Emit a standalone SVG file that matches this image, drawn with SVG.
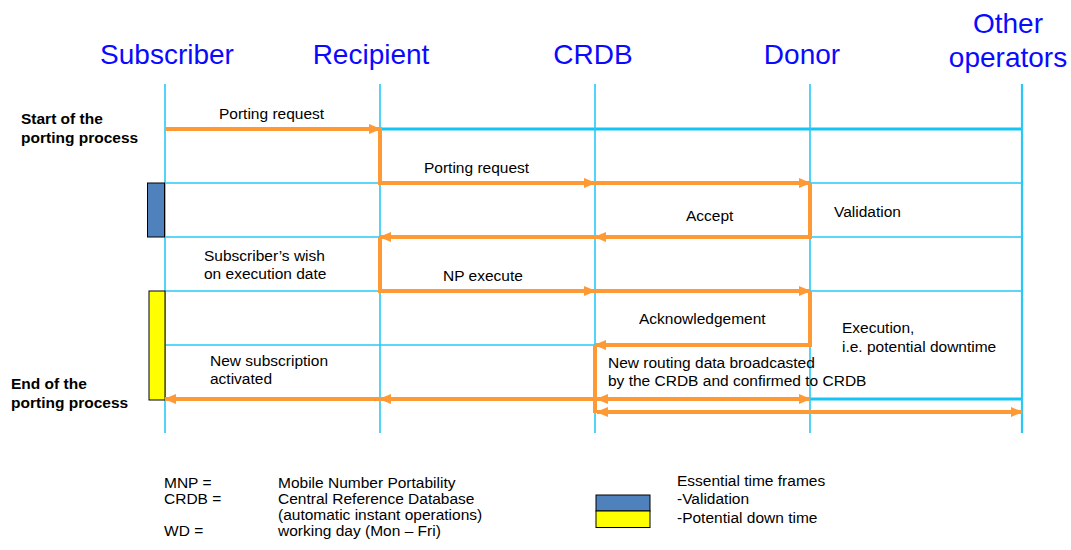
<svg xmlns="http://www.w3.org/2000/svg" width="1071" height="550" viewBox="0 0 1071 550">
<defs>
<style>
.life{stroke:#29C8F8;stroke-width:1.6;fill:none}
.thin{stroke:#29C8F8;stroke-width:1.3;fill:none}
.thick{stroke:#14C4F6;stroke-width:3;fill:none}
.msg{stroke:#FF9933;stroke-width:4;fill:none;stroke-linejoin:miter}
.hdr{font-family:"Liberation Sans",Arial,sans-serif;font-size:28px;fill:#0A0AFF;text-anchor:middle}
.lbl{font-family:"Liberation Sans",Arial,sans-serif;font-size:15.5px;fill:#000}
.bold{font-family:"Liberation Sans",Arial,sans-serif;font-size:15.5px;font-weight:bold;fill:#000}
</style>
<marker id="ah" markerUnits="userSpaceOnUse" viewBox="0 0 12 10" refX="11" refY="5" markerWidth="12" markerHeight="10" orient="auto-start-reverse">
<path d="M0,0 L12,5 L0,10 z" fill="#FF9933"/>
</marker>
</defs>
<rect width="1071" height="550" fill="#fff"/>

<g id="grid">
<line class="thin" x1="165" y1="183" x2="1022" y2="183"/>
<line class="thin" x1="165" y1="237" x2="1022" y2="237"/>
<line class="thin" x1="165" y1="291" x2="1022" y2="291"/>
<line class="thin" x1="165" y1="345" x2="810" y2="345"/>
<line class="thick" x1="380" y1="129" x2="1022" y2="129"/>
<line class="thick" x1="810" y1="399" x2="1022" y2="399"/>
</g>

<g id="subscriber">
<text class="hdr" x="167" y="64">Subscriber</text>
<line class="life" x1="165" y1="84" x2="165" y2="433"/>
</g>
<g id="recipient">
<text class="hdr" x="371" y="64">Recipient</text>
<line class="life" x1="380" y1="84" x2="380" y2="433"/>
</g>
<g id="crdb">
<text class="hdr" x="593" y="64">CRDB</text>
<line class="life" x1="595" y1="84" x2="595" y2="433"/>
</g>
<g id="donor">
<text class="hdr" x="802" y="64">Donor</text>
<line class="life" x1="810" y1="84" x2="810" y2="433"/>
</g>
<g id="other">
<text class="hdr" x="1008" y="33">Other</text>
<text class="hdr" x="1008" y="67">operators</text>
<line class="life" x1="1022" y1="84" x2="1022" y2="433" style="stroke-width:2.2"/>
</g>

<g id="timeframes">
<rect x="147.5" y="183" width="17" height="54" fill="#4F81BD" stroke="#000" stroke-width="1"/>
<rect x="149" y="291" width="16" height="109" fill="#FFFF00" stroke="#000" stroke-width="1"/>
</g>

<g id="connectors">
<path class="msg" d="M165,129 H380" marker-end="url(#ah)"/>
<path class="msg" d="M380,127 V183 H595" marker-end="url(#ah)"/>
<path class="msg" d="M595,183 H810" marker-end="url(#ah)"/>
<path class="msg" d="M810,183 V237 H595" marker-end="url(#ah)"/>
<path class="msg" d="M595,237 H380" marker-end="url(#ah)"/>
<path class="msg" d="M380,237 V291 H595" marker-end="url(#ah)"/>
<path class="msg" d="M595,291 H810" marker-end="url(#ah)"/>
<path class="msg" d="M810,291 V345 H595" marker-end="url(#ah)"/>
<path class="msg" d="M595,345 V413"/>
<path class="msg" d="M595,399 H380" marker-end="url(#ah)"/>
<path class="msg" d="M380,399 H165" marker-end="url(#ah)"/>
<path class="msg" d="M597,399 H810" marker-start="url(#ah)" marker-end="url(#ah)"/>
<path class="msg" d="M597,412 H1022" marker-start="url(#ah)" marker-end="url(#ah)"/>
</g>

<g id="labels">
<text class="bold" x="21" y="124">Start of the</text>
<text class="bold" x="21" y="143">porting process</text>
<text class="bold" x="11" y="389">End of the</text>
<text class="bold" x="11" y="408">porting process</text>
<text class="lbl" x="219" y="119">Porting request</text>
<text class="lbl" x="424" y="173">Porting request</text>
<text class="lbl" x="686" y="221">Accept</text>
<text class="lbl" x="834" y="217">Validation</text>
<text class="lbl" x="204" y="261">Subscriber’s wish</text>
<text class="lbl" x="204" y="279">on execution date</text>
<text class="lbl" x="443" y="281">NP execute</text>
<text class="lbl" x="639" y="324">Acknowledgement</text>
<text class="lbl" x="842" y="333">Execution,</text>
<text class="lbl" x="842" y="352">i.e. potential downtime</text>
<text class="lbl" x="210" y="366">New subscription</text>
<text class="lbl" x="210" y="384">activated</text>
<text class="lbl" x="608" y="368">New routing data broadcasted</text>
<text class="lbl" x="608" y="386">by the CRDB and confirmed to CRDB</text>
</g>

<g id="legend">
<text class="lbl" x="164" y="488">MNP =</text>
<text class="lbl" x="164" y="504">CRDB =</text>
<text class="lbl" x="164" y="536">WD =</text>
<text class="lbl" x="278" y="488">Mobile Number Portability</text>
<text class="lbl" x="278" y="504">Central Reference Database</text>
<text class="lbl" x="278" y="520">(automatic instant operations)</text>
<text class="lbl" x="278" y="536">working day (Mon – Fri)</text>
<rect x="596" y="495" width="54" height="16" fill="#4F81BD" stroke="#000" stroke-width="1"/>
<rect x="596" y="511" width="54" height="16.5" fill="#FFFF00" stroke="#000" stroke-width="1"/>
<text class="lbl" x="677" y="486">Essential time frames</text>
<text class="lbl" x="677" y="504">-Validation</text>
<text class="lbl" x="677" y="523">-Potential down time</text>
</g>
</svg>
